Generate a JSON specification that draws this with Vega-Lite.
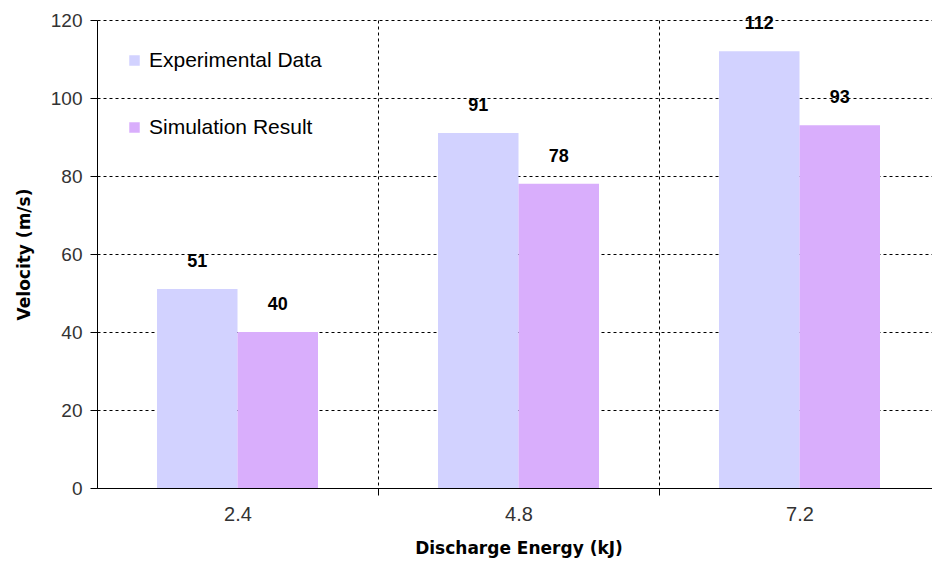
{
  "$schema": "https://vega.github.io/schema/vega-lite/v6.json",
  "width": 835,
  "height": 468,
  "autosize": {"type": "none"},
  "padding": {"left": 97, "top": 20, "right": 0, "bottom": 76},
  "background": "white",
  "config": {
    "view": {"stroke": null},
    "font": "Liberation Sans"
  },
  "data": {
    "values": [
      {"energy": "2.4", "series": "Experimental Data", "velocity": 51},
      {"energy": "2.4", "series": "Simulation Result", "velocity": 40},
      {"energy": "4.8", "series": "Experimental Data", "velocity": 91},
      {"energy": "4.8", "series": "Simulation Result", "velocity": 78},
      {"energy": "7.2", "series": "Experimental Data", "velocity": 112},
      {"energy": "7.2", "series": "Simulation Result", "velocity": 93}
    ]
  },
  "encoding": {
    "x": {
      "field": "energy", "type": "nominal", "sort": null,
      "scale": {"range": [0, 843], "paddingInner": 0.427, "paddingOuter": 0.2135},
      "axis": {
        "title": "Discharge Energy (kJ)",
        "titleFont": "DejaVu Sans", "titleFontSize": 17, "titleFontWeight": "bold", "titleColor": "black",
        "titlePadding": 16,
        "labelAngle": 0, "labelFontSize": 20, "labelColor": "#333333", "labelPadding": 9,
        "tickOffset": 140.5, "labelOffset": -140.5,
        "ticks": true, "tickSize": 7, "tickColor": "black",
        "domainColor": "black",
        "grid": true, "gridColor": "black", "gridDash": [3, 3], "gridWidth": 1
      }
    },
    "xOffset": {"field": "series", "type": "nominal", "scale": {"paddingInner": 0, "paddingOuter": 0}},
    "y": {
      "field": "velocity", "type": "quantitative",
      "scale": {"domain": [0, 120], "nice": false},
      "axis": {
        "title": "Velocity (m/s)", "values": [0, 20, 40, 60, 80, 100, 120],
        "titleFont": "DejaVu Sans", "titleFontSize": 17, "titleFontWeight": "bold", "titleColor": "black",
        "titlePadding": 17,
        "labelFontSize": 19, "labelColor": "#333333", "labelPadding": 8,
        "tickSize": 7, "tickColor": "black", "domainColor": "black",
        "grid": true, "gridColor": "black", "gridDash": [3, 3], "gridWidth": 1
      }
    }
  },
  "layer": [
    {
      "mark": {"type": "bar"},
      "encoding": {
        "color": {
          "field": "series", "type": "nominal",
          "scale": {"domain": ["Experimental Data", "Simulation Result"], "range": ["#d2d2ff", "#d9aefc"]},
          "legend": {
            "title": null, "orient": "none", "legendX": 27, "legendY": 30,
            "symbolType": "square", "symbolSize": 110, "symbolStrokeWidth": 0,
            "labelFont": "Liberation Sans", "labelFontSize": 21, "labelColor": "black",
            "labelOffset": 4, "labelLimit": 400, "rowPadding": 45
          }
        }
      }
    },
    {
      "mark": {"type": "text", "baseline": "middle", "dy": -27, "fontSize": 18, "fontWeight": "bold", "color": "black", "font": "Liberation Sans"},
      "encoding": {"text": {"field": "velocity", "type": "quantitative"}}
    }
  ]
}
